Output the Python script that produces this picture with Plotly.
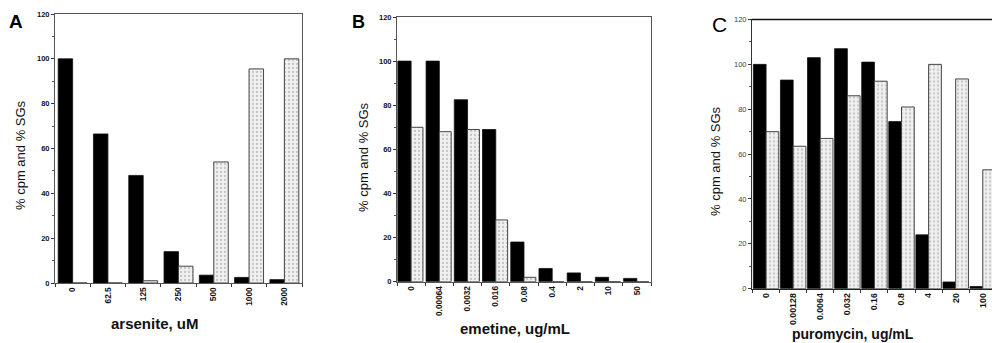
import plotly.graph_objects as go

W, H = 992, 343

# ---------------- data ----------------
a_cats = ["0", "62.5", "125", "250", "500", "1000", "2000"]
a_cpm = [100, 66.5, 48, 14, 3.5, 2.5, 1.5]
a_sgs = [0, 0, 1, 7.5, 54, 95.5, 100]

b_cats = ["0", "0.00064", "0.0032", "0.016", "0.08", "0.4", "2", "10", "50"]
b_cpm = [100, 100, 82.5, 69, 18, 6, 4, 2, 1.5]
b_sgs = [70, 68, 69, 28, 2, 0, 0, 0, 0]

c_cats = ["0", "0.00128", "0.0064", "0.032", "0.16", "0.8", "4", "20", "100"]
c_cpm = [100, 93, 103, 107, 101, 74.5, 24, 3, 1]
c_sgs = [70, 63.5, 67, 86, 92.5, 81, 100, 93.5, 53]

y_ticks = [0, 20, 40, 60, 80, 100, 120]
y_title = "% cpm and % SGs"
x_titles = ["arsenite, uM", "emetine, ug/mL", "puromycin, ug/mL"]
letters = ["A", "B", "C"]

FONT = "Liberation Sans, Arial, sans-serif"


def px(x):
    return x / W


def py(y):
    return 1 - y / H


fig = go.Figure()

grey_pattern = dict(shape=".", fgcolor="#9a9a9a", bgcolor="#f0f0f0", size=4, solidity=0.25)

panels = [
    # cats, cpm, sgs, axis suffix, black width, grey width
    (a_cats, a_cpm, a_sgs, "", 0.41, 0.41),
    (b_cats, b_cpm, b_sgs, "2", 0.47, 0.42),
    (c_cats, c_cpm, c_sgs, "3", 0.47, 0.47),
]

for cats, cpm, sgs, sfx, wb, wg in panels:
    fig.add_trace(go.Bar(
        x=cats, y=cpm, xaxis="x" + sfx, yaxis="y" + sfx,
        width=wb, offset=-wb,
        marker=dict(color="#000000", line=dict(color="#111111", width=0.8)),
        showlegend=False,
    ))
    fig.add_trace(go.Bar(
        x=cats, y=sgs, xaxis="x" + sfx, yaxis="y" + sfx,
        width=wg, offset=0,
        marker=dict(color="#eeeeee", pattern=grey_pattern,
                    line=dict(color="#444444", width=1)),
        showlegend=False,
    ))

# geometry (pixels)
doms = {
    "": dict(x=(55, 302), y=(283, 14), xr=[-0.5, 6.5]),
    "2": dict(x=(397, 651), y=(281.7, 17), xr=[-0.5, 8.5]),
    "3": dict(x=(752, 992), y=(288.7, 19.5), xr=[-0.52, 8.34]),
}

for sfx, d in doms.items():
    is_c = sfx == "3"
    xa = dict(
        domain=[px(d["x"][0]), px(d["x"][1])],
        anchor="y" + sfx,
        type="category",
        range=d["xr"],
        showline=True, linecolor="#222222" if is_c else "#555555", linewidth=1,
        mirror=True,
        ticks="outside", ticklen=3, tickcolor="#333333",
        tickson="boundaries",
        tickangle=-90,
        tickfont=dict(family=FONT, size=8.8 if is_c else 8.3, color="#111111", weight="bold"),
        showgrid=False, zeroline=False, automargin=False,
        fixedrange=True,
    )
    ya = dict(
        domain=[py(d["y"][0]), py(d["y"][1])],
        anchor="x" + sfx,
        range=[0, 120],
        tickvals=y_ticks,
        showline=True, linecolor="#333333" if is_c else "#555555", linewidth=1,
        mirror=False if is_c else True,
        ticks="outside", ticklen=3, tickcolor="#333333",
        minor=dict(ticks="outside", ticklen=2, dtick=10, tickcolor="#555555"),
        tickfont=(dict(family=FONT, size=7.5, color="#444444") if is_c else
                  dict(family=FONT, size=7.5, color="#111111", weight="bold")),
        showgrid=False, zeroline=False, automargin=False,
        fixedrange=True,
    )
    fig.update_layout({"xaxis" + sfx: xa, "yaxis" + sfx: ya})

# thicker top line for panel C
fig.add_shape(type="line", xref="paper", yref="paper",
              x0=px(752), x1=1, y0=py(19.5), y1=py(19.5),
              line=dict(color="#111111", width=1.5))

annotations = []
# panel letters
for txt, (lx, ly), size, weight in zip(letters, [(16, 22), (358, 22.5), (719, 24)],
                                        [19, 18, 21], ["bold", "bold", "normal"]):
    annotations.append(dict(text=txt, x=px(lx), y=py(ly), xref="paper", yref="paper",
                            showarrow=False, xanchor="center", yanchor="middle",
                            font=dict(family=FONT, size=size, color="#000000", weight=weight)))
# y titles
for ylx, yly in [(21, 155), (363, 157), (715, 161)]:
    annotations.append(dict(text=y_title, x=px(ylx), y=py(yly), xref="paper", yref="paper",
                            showarrow=False, textangle=-90, xanchor="center", yanchor="middle",
                            font=dict(family=FONT, size=13, color="#111111")))
# x titles
for txt, (tx, ty), ya_ in zip(x_titles, [(155, 323), (515, 328), (853, 342.5)],
                              ["middle", "middle", "bottom"]):
    annotations.append(dict(text=txt, x=px(tx), y=py(ty), xref="paper", yref="paper",
                            showarrow=False, xanchor="center", yanchor=ya_,
                            borderpad=0,
                            font=dict(family=FONT, size=15 if ya_ == "middle" else 14,
                                      color="#111111", weight="bold")))

fig.update_layout(
    width=W, height=H,
    margin=dict(l=0, r=0, t=0, b=0),
    paper_bgcolor="white", plot_bgcolor="white",
    barmode="group",
    annotations=annotations,
    showlegend=False,
)

fig.write_html("out.html", config={"displayModeBar": False},
               post_script="document.body.style.margin='0';document.body.style.overflow='hidden';")
